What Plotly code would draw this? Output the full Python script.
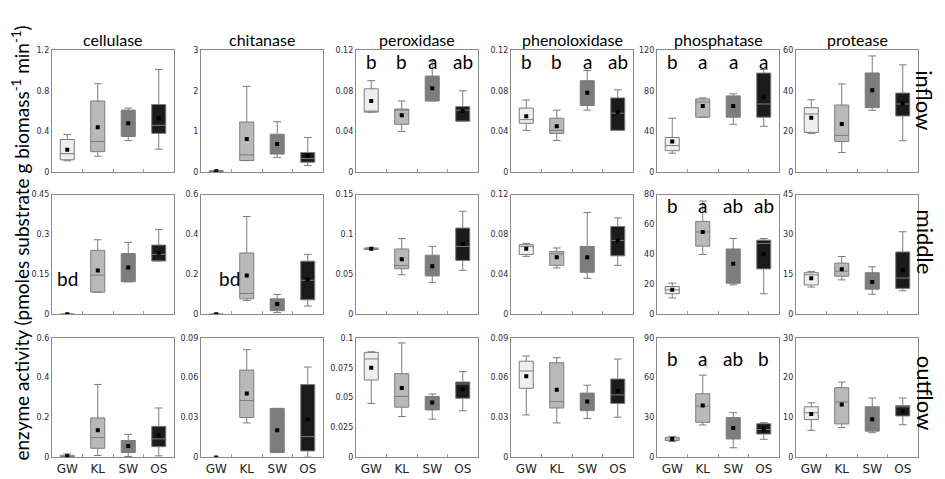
import plotly.graph_objects as go

sites = ["GW", "KL", "SW", "OS"]
enzymes = ["cellulase", "chitanase", "peroxidase", "phenoloxidase", "phosphatase", "protease"]
reaches = ["inflow", "middle", "outflow"]
site_fill = ["#efefef", "#b9b9b9", "#7d7d7d", "#1b1b1b"]

# one row per site (GW, KL, SW, OS): lower whisker, q1, median, q3, upper whisker, mean
inflow_cellulase = [[0.11, 0.12, 0.18, 0.32, 0.37, 0.22], [0.155, 0.20, 0.30, 0.70, 0.87, 0.44],
                    [0.31, 0.35, 0.48, 0.61, 0.63, 0.48], [0.225, 0.38, 0.46, 0.665, 1.01, 0.53]]
inflow_chitanase = [[0.0, 0.005, 0.015, 0.03, 0.03, 0.015], [0.28, 0.28, 0.42, 1.23, 2.11, 0.81],
                    [0.36, 0.44, 0.58, 0.93, 1.24, 0.69], [0.16, 0.24, 0.33, 0.48, 0.85, 0.40]]
inflow_peroxidase = [[0.059, 0.059, 0.060, 0.082, 0.090, 0.070], [0.040, 0.047, 0.061, 0.062, 0.070, 0.056],
                     [0.070, 0.070, 0.075, 0.0945, 0.109, 0.0826], [0.050, 0.050, 0.061, 0.0645, 0.080, 0.060]]
inflow_phenoloxidase = [[0.041, 0.048, 0.0516, 0.063, 0.071, 0.055], [0.031, 0.038, 0.041, 0.053, 0.061, 0.045],
                        [0.061, 0.0655, 0.076, 0.090, 0.100, 0.078], [0.041, 0.041, 0.058, 0.073, 0.081, 0.059]]
inflow_phosphatase = [[18.5, 21, 26, 34, 53, 30], [54, 54, 69, 72, 73, 65],
                      [47, 54, 67, 75, 77, 65], [45, 54, 67, 97.5, 101, 73.5]]
inflow_protease = [[19, 19.5, 28.6, 31.7, 35.6, 26.7], [9.6, 15, 18, 33, 43.4, 23.6],
                   [30.4, 31.7, 36.6, 48.8, 57.2, 40.3], [15.4, 27.6, 33.5, 38.9, 52.8, 33.7]]

middle_cellulase = [[0, 0, 0, 0, 0, 0], [0.083, 0.083, 0.147, 0.24, 0.28, 0.164],
                    [0.122, 0.122, 0.157, 0.228, 0.27, 0.176], [0.20, 0.20, 0.225, 0.26, 0.318, 0.231]]
middle_chitanase = [[0, 0, 0, 0, 0, 0], [0.069, 0.077, 0.104, 0.307, 0.49, 0.194],
                    [0.008, 0.018, 0.044, 0.077, 0.099, 0.051], [0.041, 0.072, 0.17, 0.266, 0.30, 0.174]]
middle_peroxidase = [[0.081, 0.081, 0.082, 0.083, 0.083, 0.082], [0.0494, 0.057, 0.061, 0.0817, 0.0948, 0.069],
                     [0.040, 0.048, 0.054, 0.074, 0.085, 0.060], [0.055, 0.0674, 0.085, 0.108, 0.129, 0.088]]
middle_phenoloxidase = [[0.058, 0.0598, 0.068, 0.0697, 0.071, 0.0657], [0.0464, 0.049, 0.0605, 0.0628, 0.0664, 0.0572],
                        [0.036, 0.042, 0.0464, 0.068, 0.102, 0.057], [0.049, 0.0585, 0.074, 0.088, 0.0965, 0.074]]
middle_phosphatase = [[10.9, 13.7, 16.3, 18.5, 20.7, 16.3], [39.9, 45.5, 55, 62, 75.6, 55],
                      [19.6, 20.7, 36.6, 43.6, 50.6, 33.8], [13.7, 30.3, 47.3, 49.5, 50.6, 40]]
middle_protease = [[10.2, 11, 14.8, 15.6, 16.1, 13.5], [12.9, 14.3, 16.2, 19.2, 21.7, 16.9],
                   [7.5, 9.4, 11, 15.6, 17.8, 12.1], [8.8, 9.7, 13.6, 23.4, 31, 16.5]]

outflow_cellulase = [[0, 0, 0.005, 0.0108, 0.018, 0.0066], [0.01, 0.046, 0.10, 0.198, 0.366, 0.136],
                     [0.005, 0.025, 0.051, 0.085, 0.116, 0.057], [0.008, 0.054, 0.093, 0.156, 0.248, 0.11]]
outflow_chitanase = [[0, 0, 0, 0, 0, 0], [0.026, 0.030, 0.0428, 0.0657, 0.081, 0.048],
                     [0.0037, 0.0037, 0.0204, 0.0369, 0.0369, 0.0204], [0.0002, 0.0049, 0.0157, 0.0548, 0.068, 0.0285]]
outflow_peroxidase = [[0.0451, 0.0647, 0.0823, 0.0878, 0.0883, 0.075], [0.0342, 0.042, 0.051, 0.070, 0.0957, 0.058],
                      [0.032, 0.0397, 0.0484, 0.051, 0.053, 0.046], [0.039, 0.0495, 0.0614, 0.063, 0.0717, 0.057]]
outflow_phenoloxidase = [[0.032, 0.052, 0.065, 0.0724, 0.0763, 0.061], [0.026, 0.0372, 0.042, 0.0712, 0.075, 0.051],
                         [0.0293, 0.0352, 0.0425, 0.0484, 0.0543, 0.042], [0.0303, 0.0406, 0.047, 0.059, 0.074, 0.0499]]
outflow_phosphatase = [[12, 12.7, 13.9, 15.2, 15.9, 13.9], [24.4, 26.4, 38.6, 47.9, 61.9, 39],
                       [7.3, 13.9, 24, 30, 33.7, 22.2], [13.7, 17.6, 21, 25.4, 26.2, 21.3]]
outflow_protease = [[6.8, 9.5, 11.2, 12.7, 13.7, 10.9], [7.5, 8.4, 13.9, 17.5, 18.9, 13.3],
                    [6.2, 6.6, 9, 12.7, 14.9, 9.6], [8.2, 10.4, 12.7, 13, 14.9, 11.6]]

inflow_ticks = [[0, 0.4, 0.8, 1.2], [0, 1, 2, 3], [0, 0.04, 0.08, 0.12],
                [0, 0.04, 0.08, 0.12], [0, 40, 80, 120], [0, 20, 40, 60]]
middle_ticks = [[0, 0.15, 0.3, 0.45], [0, 0.2, 0.4, 0.6], [0, 0.05, 0.1, 0.15],
                [0, 0.04, 0.08, 0.12], [0, 20, 40, 60, 80], [0, 15, 30, 45]]
outflow_ticks = [[0, 0.2, 0.4, 0.6], [0, 0.03, 0.06, 0.09], [0, 0.025, 0.05, 0.075, 0.1],
                 [0, 0.03, 0.06, 0.09], [0, 30, 60, 90], [0, 10, 20, 30]]

# significance letters, keyed by (reach, enzyme)
letters = {
    ("inflow", "peroxidase"): ["b", "b", "a", "ab"],
    ("inflow", "phenoloxidase"): ["b", "b", "a", "ab"],
    ("inflow", "phosphatase"): ["b", "a", "a", "a"],
    ("middle", "cellulase"): ["bd", "", "", ""],
    ("middle", "chitanase"): ["bd", "", "", ""],
    ("middle", "phosphatase"): ["b", "a", "ab", "ab"],
    ("outflow", "phosphatase"): ["b", "a", "ab", "b"],
}

stats = {
    "inflow": [inflow_cellulase, inflow_chitanase, inflow_peroxidase,
               inflow_phenoloxidase, inflow_phosphatase, inflow_protease],
    "middle": [middle_cellulase, middle_chitanase, middle_peroxidase,
               middle_phenoloxidase, middle_phosphatase, middle_protease],
    "outflow": [outflow_cellulase, outflow_chitanase, outflow_peroxidase,
                outflow_phenoloxidase, outflow_phosphatase, outflow_protease],
}
ticks = {"inflow": inflow_ticks, "middle": middle_ticks, "outflow": outflow_ticks}

# panel frames in pixels (945 x 479 page)
W, H = 945, 479
col_left = [44, 193, 348, 503, 649, 788]
panel_w = 122
row_top = [39, 186, 332]
row_bot = [163, 308, 454]

# height (fraction of panel) where the letters sit
letter_level = {"inflow": 0.91, "middle": 0.91, "outflow": 0.83}

fig = go.Figure()
layout = {}
annotations = []

for r, reach in enumerate(reaches):
    for c, enz in enumerate(enzymes):
        n = r * 6 + c + 1
        xa = "x" if n == 1 else f"x{n}"
        ya = "y" if n == 1 else f"y{n}"
        data = stats[reach][c]
        for k, site in enumerate(sites):
            lo, q1, med, q3, hi, mean = data[k]
            fig.add_trace(go.Box(
                x=[site], q1=[q1], median=[med], q3=[q3],
                lowerfence=[lo], upperfence=[hi],
                fillcolor=site_fill[k], line=dict(color="#7c7c7c", width=1),
                width=0.46, whiskerwidth=0.55, boxpoints=False,
                xaxis=xa, yaxis=ya, showlegend=False, hoverinfo="skip"))
        fig.add_trace(go.Scatter(
            x=sites, y=[row[5] for row in data], mode="markers",
            marker=dict(symbol="square", size=4, color="black"),
            xaxis=xa, yaxis=ya, showlegend=False, hoverinfo="skip"))

        tv = ticks[reach][c]
        layout["xaxis" if n == 1 else f"xaxis{n}"] = dict(
            domain=[col_left[c] / W, (col_left[c] + panel_w) / W],
            anchor=ya, type="category", categoryorder="array", categoryarray=sites,
            range=[-0.5, 3.5], tickson="boundaries", ticks="inside", ticklen=3,
            tickcolor="#999", showticklabels=(r == 2), showgrid=False, zeroline=False,
            showline=True, mirror=True, linecolor="#8a8a8a", linewidth=1.3,
            tickfont=dict(family="DejaVu Sans", size=12, color="#222"))
        layout["yaxis" if n == 1 else f"yaxis{n}"] = dict(
            domain=[1 - row_bot[r] / H, 1 - row_top[r] / H],
            anchor=xa, range=[0, tv[-1]], tickmode="array", tickvals=tv,
            ticktext=[f"{v:g}" for v in tv], ticks="", showgrid=False, zeroline=False,
            showline=True, mirror=True, linecolor="#8a8a8a", linewidth=1.3,
            tickfont=dict(family="DejaVu Sans", size=8, color="#2a2a44"))

        if r == 0:
            annotations.append(dict(
                text=enz, xref="paper", yref="paper", xanchor="center", yanchor="middle",
                x=(col_left[c] + panel_w / 2) / W, y=1 - 28 / H,
                showarrow=False, font=dict(family="Lato", size=16, color="black")))

        labs = letters.get((reach, enz))
        if labs:
            for k, lab in enumerate(labs):
                if not lab:
                    continue
                lvl = 0.30 if lab == "bd" else letter_level[reach]
                annotations.append(dict(
                    text=lab, xref=xa, yref=f"{ya} domain", x=sites[k], y=lvl,
                    xanchor="center", yanchor="middle",
                    xshift=(13 if enz == "chitanase" else 0),
                    showarrow=False, font=dict(family="Lato", size=19, color="black")))

row_mid = [90, 234, 388]
for r, reach in enumerate(reaches):
    annotations.append(dict(
        text=reach, xref="paper", yref="paper", x=917 / W, y=1 - row_mid[r] / H,
        xanchor="center", yanchor="middle",
        textangle=90, showarrow=False, font=dict(family="Lato", size=22, color="black")))

annotations.append(dict(
    text="enzyme activity (pmoles substrate g biomass<sup>-1</sup> min<sup>-1</sup>)",
    xref="paper", yref="paper", x=13 / W, y=1 - 236 / H, textangle=-90,
    xanchor="center", yanchor="middle",
    showarrow=False, font=dict(family="Lato", size=19, color="black")))

fig.update_layout(
    width=W, height=H, margin=dict(l=0, r=0, t=0, b=0),
    paper_bgcolor="white", plot_bgcolor="white",
    annotations=annotations, **layout)

fig.write_html("out.html")
